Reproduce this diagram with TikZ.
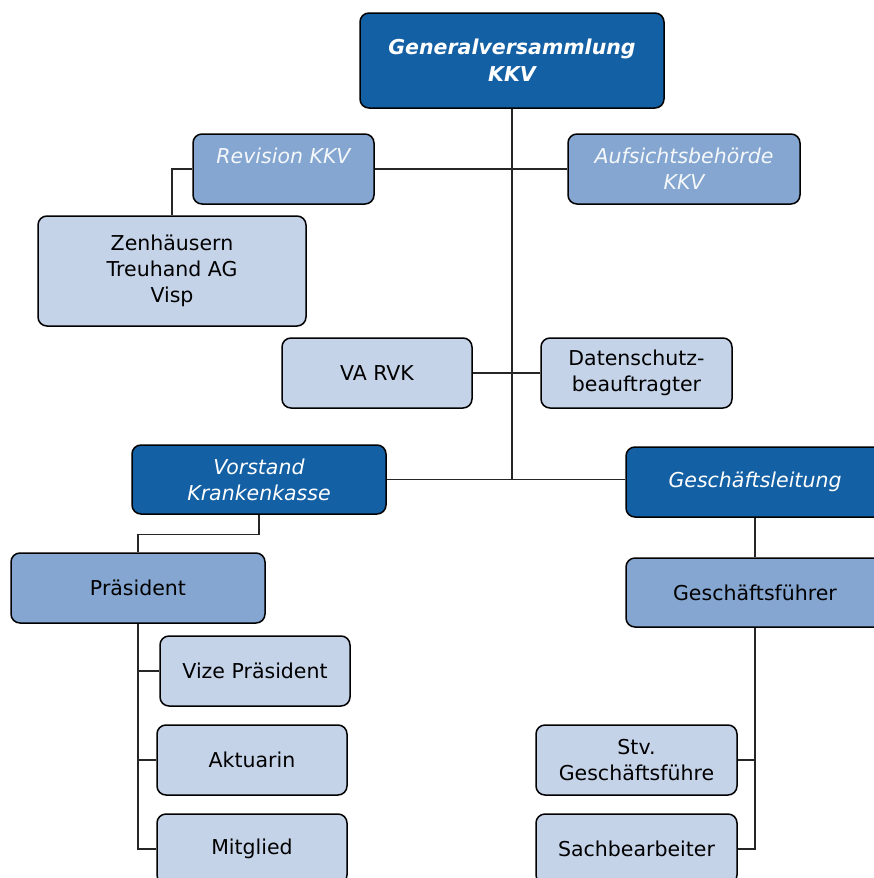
\documentclass[tikz,border=0pt]{standalone}
\usepackage{fontspec}
\setmainfont{DejaVu Sans}
\usetikzlibrary{%
  positioning%
}
\definecolor{kkvdark}{RGB}{20,96,164}
\definecolor{kkvmid}{RGB}{132,166,208}
\definecolor{kkvlight}{RGB}{197,211,233}

\begin{document}
\begin{tikzpicture}[x=1pt,y=1pt,
	box/.style={
	rectangle,rounded corners=9pt,
	line width=1.5pt,draw=black,
	align=center,inner sep=0pt,
	font=\fontsize{20.5}{26}\selectfont
	},organ/.style={
	box,fill=kkvdark,text=white,
	font=\fontsize{20.5}{26}\selectfont\itshape
	},aufsicht/.style={
	box,fill=kkvmid,text=white!92!kkvmid,
	font=\fontsize{20.5}{26}\selectfont\itshape
	},chef/.style={
	box,fill=kkvmid,text=black
	},stelle/.style={
	box,fill=kkvlight,text=black
	},link/.style={
	line width=1.2pt,draw=black!85
	}
]
\useasboundingbox (0,0) rectangle (874,-878);
\clip (0,0) rectangle (874,-878);

% top
\node (atomGV) [organ,minimum width=304,minimum height=95,
	font=\fontsize{20.5}{27}\selectfont\bfseries\itshape] at (512,-60.5) {Generalversammlung\\KKV};
\node (atomREV) [aufsicht,minimum width=181,minimum height=70] at (283.5,-169) {Revision KKV\\\mbox{}};
\node (atomAUF) [aufsicht,minimum width=232,minimum height=70] at (684,-169) {Aufsichtsbehörde\\KKV};
\node (atomZEN) [stelle,minimum width=268,minimum height=110] at (172,-271) {Zenhäusern\\Treuhand AG\\Visp};
% middle
\node (atomVA) [stelle,minimum width=190,minimum height=70] at (377,-373) {VA RVK};
\node (atomDSB) [stelle,minimum width=191,minimum height=70] at (636.5,-373) {Datenschutz-\\beauftragter};
\node (atomVOR) [organ,minimum width=254,minimum height=69] at (259,-479.5) {Vorstand\\Krankenkasse};
\node (atomGL) [organ,minimum width=258,minimum height=70] at (755,-482) {Geschäftsleitung};
% bottom left
\node (atomPRA) [chef,minimum width=254,minimum height=70] at (138,-588) {Präsident};
\node (atomVIZ) [stelle,minimum width=190,minimum height=70] at (255,-671) {Vize Präsident};
\node (atomAKT) [stelle,minimum width=190,minimum height=70] at (252,-760) {Aktuarin};
\node (atomMIT) [stelle,minimum width=190,minimum height=70] at (252,-849) {Mitglied};
% bottom right
\node (atomGF) [chef,minimum width=258,minimum height=69] at (755,-592.5) {Geschäftsführer};
\node (atomSTV) [stelle,minimum width=201,minimum height=70] at (636.5,-760) {Stv.\\Geschäftsführe};
\node (atomSB) [stelle,minimum width=201,minimum height=70] at (636.5,-849) {Sachbearbeiter};

\draw[link] (atomGV.south) -- (atomGV.south |- atomVOR.east);
\draw[link] (atomREV.east) -- (atomAUF.west);
\draw[link] (atomREV.west) -| (atomZEN.north);
\draw[link] (atomVA.east) -- (atomDSB.west);
\draw[link] (atomVOR.east) -- (atomGL.west |- atomVOR.east);
\draw[link] (atomVOR.south) -- ++(0,-20) -| (atomPRA.north);
\draw[link] (atomPRA.south) |- (atomVIZ.west);
\draw[link] (atomPRA.south) |- (atomAKT.west);
\draw[link] (atomPRA.south) |- (atomMIT.west);
\draw[link] (atomGL.south) -- (atomGF.north);
\draw[link] (atomGF.south) |- (atomSTV.east);
\draw[link] (atomGF.south) |- (atomSB.east);

\end{tikzpicture}
\end{document}
